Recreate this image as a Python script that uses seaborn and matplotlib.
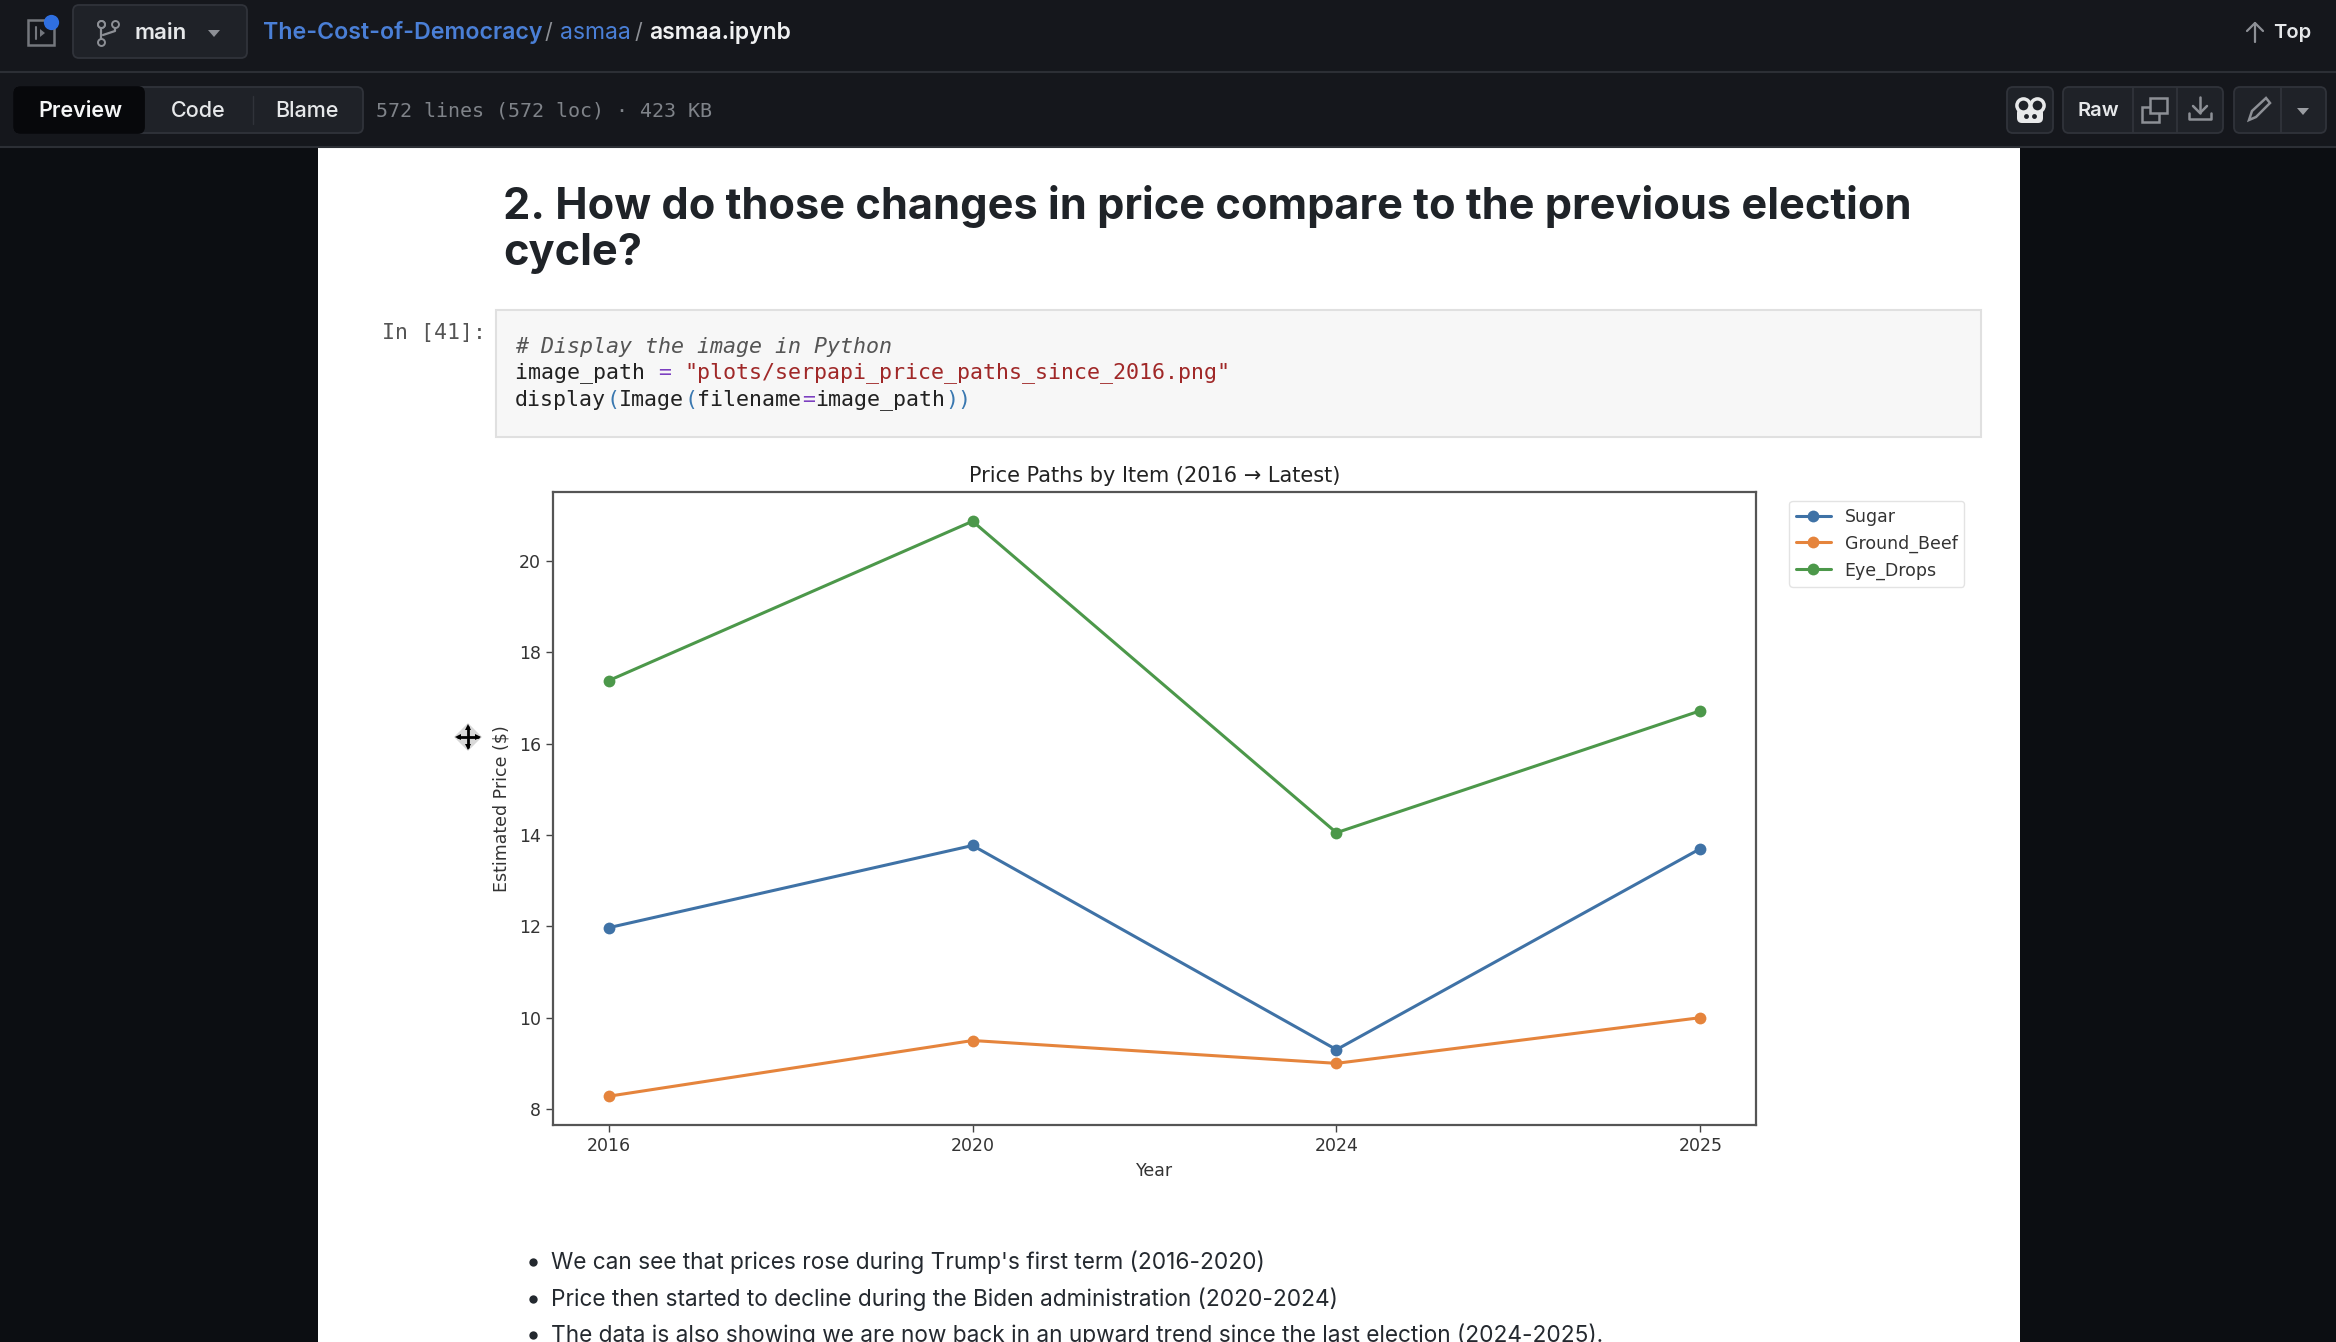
import matplotlib
matplotlib.use('Agg')
import matplotlib.pyplot as plt
import pandas as pd
import seaborn as sns
from matplotlib.patches import FancyBboxPatch, Polygon, Rectangle

# values
years = ['2016', '2020', '2024', '2025']
sugar = [11.97, 13.77, 9.3, 13.7]
ground_beef = [8.28, 9.5, 9.0, 10.0]
eye_drops = [17.38, 20.87, 14.05, 16.72]
item_names = ['Sugar', 'Ground_Beef', 'Eye_Drops']
item_colors = ['#3f72a6', '#e5843c', '#4c984a']
bullets = ["We can see that prices rose during Trump's first term (2016-2020)",
           'Price then started to decline during the Biden administration (2020-2024)',
           'The data is also showing we are now back in an upward trend since the last election (2024-2025).']
code_lines = [
    [('# Display the image in Python', '#555555', 'italic')],
    [('image_path ', '#222222', 'normal'), ('=', '#7c3fc0', 'normal'), (' ', '#222222', 'normal'),
     ('"plots/serpapi_price_paths_since_2016.png"', '#a02828', 'normal')],
    [('display', '#222222', 'normal'), ('(', '#3a78b0', 'normal'), ('Image', '#222222', 'normal'),
     ('(', '#3a78b0', 'normal'), ('filename', '#222222', 'normal'), ('=', '#7c3fc0', 'normal'),
     ('image_path', '#222222', 'normal'), ('))', '#3a78b0', 'normal')],
]

W, H = 2336, 1342
UI_FONT = ['Inter', 'DejaVu Sans']
MONO_FONT = ['DejaVu Sans Mono']
BAR = '#15171c'
PAGE = '#0c0e12'
BUTTON = '#1f2228'
EDGE = '#30333a'
ICON = '#8d9096'

sns.set_theme(style='ticks')
plt.rcParams['font.family'] = ['DejaVu Sans']

fig = plt.figure(figsize=(W / 100, H / 100), dpi=100, facecolor=PAGE)

# screen chrome is drawn in pixel coordinates on a full-figure axes
bg = fig.add_axes([0, 0, 1, 1])
bg.set_xlim(0, W)
bg.set_ylim(H, 0)
bg.axis('off')


def button(x0, y0, x1, y1, color=BUTTON, edge=EDGE):
    bg.add_patch(FancyBboxPatch((x0 + 6, y0 + 6), x1 - x0 - 12, y1 - y0 - 12,
                                boxstyle='round,pad=6', fc=color, ec=edge, lw=1.3))


def label(x, y, s, size=15.5, color='#e6e8ea', weight='semibold', ha='center'):
    bg.text(x, y, s, fontsize=size, color=color, weight=weight, ha=ha, va='center', family=UI_FONT)


def triangle(x, y, r=6, color=ICON):
    bg.add_patch(Polygon([(x - r, y - 3), (x + r, y - 3), (x, y + 4)], fc=color, ec='none'))


# bars
bg.add_patch(Rectangle((0, 0), W, 148, fc=BAR, ec='none'))
bg.plot([0, W], [72, 72], color='#2c2f35', lw=1.5)
bg.plot([0, W], [147, 147], color='#2c2f35', lw=1.5)
bg.add_patch(Rectangle((318, 148), 1702, H - 148, fc='white', ec='none'))

# sidebar toggle
bg.add_patch(Rectangle((28, 20), 26, 25, fc='none', ec='#74777d', lw=1.8))
bg.plot([36, 36], [27, 39], color='#74777d', lw=1.5)
bg.add_patch(Polygon([(40, 29), (45, 33), (40, 37)], fc='#74777d', ec='none'))
bg.plot(51, 22, 'o', color='#2f6fe0', ms=11, mew=0)
# branch button
button(73, 5, 247, 58)
bg.plot([101, 101], [24, 42], color=ICON, lw=1.6)
bg.plot([101, 101, 101], [24, 42, 24], 'o', color=BUTTON, mec=ICON, ms=5, mew=1.4)
bg.plot([115, 115, 103], [24, 31, 35], color=ICON, lw=1.6)
bg.plot(115, 24, 'o', color=BUTTON, mec=ICON, ms=5, mew=1.4)
label(161, 33, 'main', size=16)
triangle(214, 33)
# breadcrumb
label(263, 33, 'The-Cost-of-Democracy', size=16.7, color='#4a7fd6', ha='left')
label(548, 33, '/', color=ICON, weight='normal')
label(560, 33, 'asmaa', size=16.5, color='#4a7fd6', weight='normal', ha='left')
label(638, 33, '/', color=ICON, weight='normal')
label(649, 33, 'asmaa.ipynb', size=16.5, color='#f0f1f2', ha='left')
# back to top
bg.plot([2255, 2255], [23, 42], color=ICON, lw=1.6)
bg.plot([2247, 2255, 2263], [31, 23, 31], color=ICON, lw=1.6)
label(2292, 33, 'Top', size=14.5)
# tabs
button(14, 87, 363, 133)
button(14, 87, 144, 133, color='#07080b', edge='#07080b')
bg.plot([253, 253], [96, 124], color=EDGE, lw=1)
label(80, 111, 'Preview', color='#f5f6f7')
label(198, 111, 'Code', weight='medium')
label(307, 111, 'Blame', weight='medium')
bg.text(376, 111, '572 lines (572 loc) · 423 KB', fontsize=14.4, color='#7f8389', va='center', family=MONO_FONT)
# copilot button
button(2007, 87, 2053, 133)
bg.plot([2023, 2037], [105, 105], 'o', color=BUTTON, mec='#e8e9ea', ms=9.5, mew=2.5)
bg.add_patch(FancyBboxPatch((2022, 113), 16, 5, boxstyle='round,pad=5', fc='#e8e9ea', ec='none'))
bg.plot([2026, 2034], [116, 116], 'o', color='#1f2228', ms=3.5, mew=0)
# raw / copy / download
button(2063, 87, 2223, 133)
bg.plot([2133, 2133], [88, 132], color=EDGE, lw=1.3)
bg.plot([2177, 2177], [88, 132], color=EDGE, lw=1.3)
label(2098, 111, 'Raw', size=14.5)
bg.add_patch(Rectangle((2142, 107), 17, 15, fc=BUTTON, ec=ICON, lw=1.8))
bg.add_patch(Rectangle((2150, 98), 17, 15, fc=BUTTON, ec=ICON, lw=1.8))
bg.plot([2200, 2200], [97, 113], color=ICON, lw=1.8)
bg.plot([2193, 2200, 2207], [106, 113, 106], color=ICON, lw=1.8)
bg.plot([2189, 2189, 2211, 2211], [113, 119, 119, 113], color=ICON, lw=1.8)
# edit group
button(2234, 87, 2326, 133)
bg.plot([2281, 2281], [88, 132], color=EDGE, lw=1.3)
bg.add_patch(Polygon([(2249, 120), (2252, 111), (2266, 98), (2270, 103), (2256, 117)],
                     fc='none', ec=ICON, lw=1.8))
triangle(2303, 111, color='#9a9da2')

# notebook heading
bg.text(503, 206, '2. How do those changes in price compare to the previous election',
        fontsize=31.2, weight='bold', color='#1f2328', va='center', family=UI_FONT)
bg.text(503, 253, 'cycle?', fontsize=31.2, weight='bold', color='#1f2328', va='center', family=UI_FONT)

# code cell
bg.text(382, 333, 'In [41]:', fontsize=15.5, color='#555555', va='center', family=MONO_FONT)
bg.add_patch(Rectangle((496, 310), 1485, 127, fc='#f7f7f7', ec='#e0e0e0', lw=1.5))
CHAR_W = 13.03
for line_y, parts in zip([347, 373, 400], code_lines):
    col = 0
    for text, color, style in parts:
        bg.text(515 + col * CHAR_W, line_y, text, fontsize=15.6, color=color, style=style,
                va='center', family=MONO_FONT)
        col += len(text)

# bullets under the chart
for line_y, text in zip([1262, 1299, 1335], bullets):
    bg.plot(533, line_y, 'o', color='#24292f', ms=6, mew=0)
    bg.text(551, line_y, text, fontsize=16.3, color='#24292f', va='center', family=UI_FONT)

# the chart itself
df = pd.DataFrame({
    'Year': years * 3,
    'Price': sugar + ground_beef + eye_drops,
    'Item': [n for n in item_names for _ in years],
})
ax = fig.add_axes([553 / W, 1 - 1125 / H, (1756 - 553) / W, (1125 - 492) / H], facecolor='white')
sns.lineplot(data=df, x='Year', y='Price', hue='Item', palette=item_colors, marker='o',
             markersize=8.5, markeredgewidth=0, linewidth=2.2, ax=ax)
ax.set_xlim(-0.153, 3.153)
ax.set_ylim(7.65, 21.51)
ax.set_yticks(range(8, 22, 2))
ax.tick_params(labelsize=12.5, length=5, width=1, color='#444444', labelcolor='#333333')
ax.set_xlabel('Year', fontsize=12.5, color='#333333', labelpad=5)
ax.set_ylabel('Estimated Price ($)', fontsize=12.5, color='#333333', labelpad=6)
ax.set_title('Price Paths by Item (2016 → Latest)', fontsize=15, color='#222222', pad=7)
for spine in ax.spines.values():
    spine.set_visible(True)
    spine.set_color('#555555')
    spine.set_linewidth(1.6)
handles, labels = ax.get_legend_handles_labels()
ax.legend(handles, labels, loc='upper left', bbox_to_anchor=(1.0275, 0.986), borderaxespad=0,
          fontsize=12.5, frameon=True, edgecolor='#dddddd', labelcolor='#333333')

# move cursor sitting over the notebook
cx, cy = 468, 737
bg.add_patch(Polygon([(cx - 14, cy), (cx, cy - 14), (cx + 14, cy), (cx, cy + 14)], fc='#d8d8d8', ec='none'))
bg.plot([cx - 10, cx + 10], [cy, cy], color='black', lw=2)
bg.plot([cx, cx], [cy - 10, cy + 10], color='black', lw=2)
for mx, my, m in [(cx - 10, cy, '<'), (cx + 10, cy, '>'), (cx, cy - 10, '^'), (cx, cy + 10, 'v')]:
    bg.plot(mx, my, m, color='black', ms=5, mew=0)

fig.savefig('out.png', dpi=100, facecolor=fig.get_facecolor())
